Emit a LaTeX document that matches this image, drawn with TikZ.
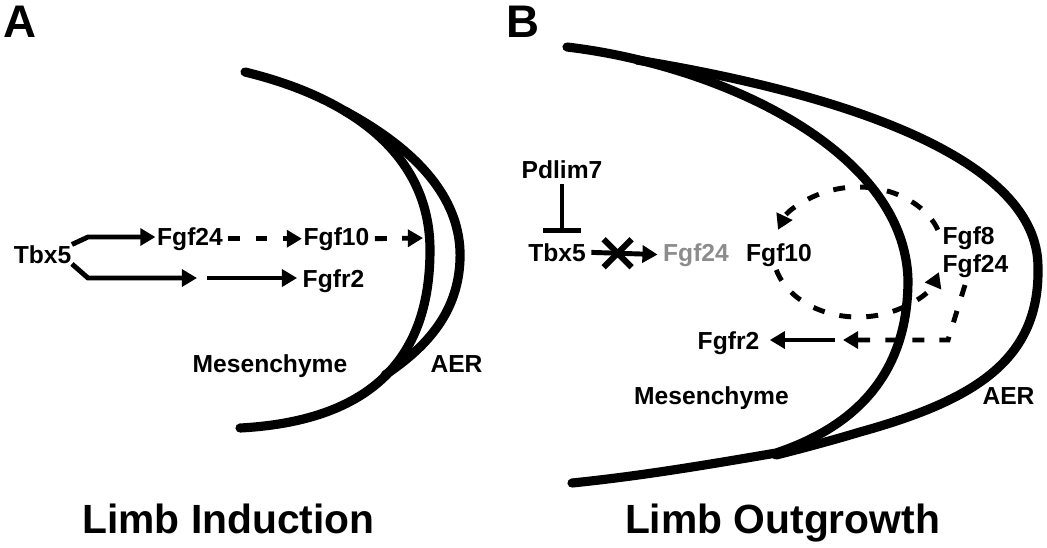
\documentclass[tikz,border=0pt]{standalone}
\usepackage{fontspec}
\setmainfont{Liberation Sans}
\usetikzlibrary{arrows.meta,calc}
\definecolor{lostgene}{RGB}{140,140,140}
\begin{document}
\begin{tikzpicture}[x=0.01cm,y=-0.01cm,
  lbl/.style={font=\fontsize{7}{8}\selectfont\bfseries, inner sep=0pt, anchor=base},
  lblw/.style={lbl, anchor=base west},
  ttl/.style={font=\fontsize{11.6}{13}\selectfont\bfseries, inner sep=0pt, anchor=base},
  pnl/.style={font=\fontsize{13}{15}\selectfont\bfseries, inner sep=0pt, anchor=base},
  tissue/.style={line width=2.6pt, line cap=round},
  arr/.style={line width=1.4pt, -{Triangle[length=4.3pt,width=4.8pt]}},
  darr/.style={arr, dash pattern=on 3.4pt off 4.3pt},
  inh/.style={line width=1.4pt, -{Bar[width=10.8pt]}},
  cross/.style={line width=1.7pt}
]
\useasboundingbox (0,0) rectangle (1047,547);

% ---------- panel labels and titles
\node[pnl] (pA) at (20,37) {A};
\node[pnl] (pB) at (523,37) {B};
\node[ttl] (tA) at (228.5,533) {Limb Induction};
\node[ttl] (tB) at (782.5,533) {Limb Outgrowth};

% ---------- panel A tissues
\draw[tissue] (245,72) .. controls (360,100) and (430,160) .. (430,250)
  .. controls (430,340) and (390,420) .. (240,428);
\draw[tissue] (345,111) .. controls (432,158) and (462,210) .. (460,260)
  .. controls (458,310) and (430,345) .. (385,375);

% ---------- panel A labels
\node[lbl] (tbxA) at (42.5,263) {Tbx5};
\node[lbl] (fgf24A) at (190,245) {Fgf24};
\node[lbl] (fgf10A) at (336.5,245) {Fgf10};
\node[lbl] (fgfr2A) at (333.5,287) {Fgfr2};
\node[lbl] (mesA) at (270,372) {Mesenchyme};
\node[lbl] (aerA) at (456.5,372) {AER};

\coordinate (upA) at (88,237);
\coordinate (loA) at (88,278);
\coordinate (gapL) at (197,278);
\coordinate (gapR) at (207,278);
\coordinate (aerIn) at (423,238);

\draw[arr, shorten >=0.3pt] (tbxA.north east) -- (upA) -- (upA -| fgf24A.west);
\draw[darr, shorten <=1.4pt, shorten >=0.3pt] (fgf24A.east) -- (fgf10A.west);
\draw[darr, shorten <=1.4pt] (fgf10A.east) -- (aerIn);
\draw[arr] (tbxA.south east) -- (loA) -- (gapL);
\draw[arr, shorten >=1.4pt] (gapR) -- (gapR -| fgfr2A.west);

% ---------- panel B tissues
\draw[tissue] (567,47) .. controls (720,65) and (905,150) .. (908,280)
  .. controls (908,370) and (860,425) .. (776,453)
  .. controls (700,466) and (640,476) .. (572,483);
\draw[tissue] (637,60) .. controls (850,95) and (1038,160) .. (1038,267)
  .. controls (1040,360) and (975,400) .. (860,432)
  .. controls (830,441) and (800,449) .. (776,455);

% ---------- panel B labels
\node[lbl] (pdlim) at (562,178) {Pdlim7};
\node[lbl] (tbxB) at (557,261) {Tbx5};
\node[lbl, text=lostgene] (fgf24g) at (696,261) {Fgf24};
\node[lbl] (fgf10B) at (779,261) {Fgf10};
\node[lblw] (fgf8) at (942,244) {Fgf8};
\node[lblw] (fgf24B) at (942,272) {Fgf24};
\node[lbl] (fgfr2B) at (728.5,349) {Fgfr2};
\node[lbl] (mesB) at (711.5,404) {Mesenchyme};
\node[lbl] (aerB) at (1008.5,404) {AER};

% Pdlim7 -| Tbx5
\draw[inh, shorten <=1.4pt, shorten >=2.8pt] (pdlim.south) -- (pdlim.south |- tbxB.north);
% Tbx5 -x-> Fgf24
\draw[arr, shorten <=1.4pt, shorten >=1.4pt] (tbxB.east) -- (fgf24g.west);
\coordinate (xc) at ($(tbxB.east)!0.41!(fgf24g.west)$);
\draw[cross] ($(xc)+(-14,-14)$) -- ($(xc)+(14,14)$);
\draw[cross] ($(xc)+(-14,14)$) -- ($(xc)+(14,-14)$);

% Fgf10 <-> Fgf8/Fgf24 loop
\coordinate (loopTopS) at (937.9,229.8);
\coordinate (loopBotS) at (776.3,269.9);
\draw[darr] (loopTopS) arc[start angle=20, end angle=160, x radius=0.85cm, y radius=0.65cm];
\draw[darr] (loopBotS) arc[start angle=196, end angle=342, x radius=0.85cm, y radius=0.65cm];

% Fgf8/Fgf24 -> Fgfr2
\coordinate (dstart) at (965,285);
\coordinate (dcorner) at (948,340);
\coordinate (dend) at (843,340);
\coordinate (sstart) at (835,340);
\draw[darr] (dstart) -- (dcorner) -- (dend);
\draw[arr, shorten >=2.8pt] (sstart) -- (sstart -| fgfr2B.east);
\end{tikzpicture}
\end{document}
